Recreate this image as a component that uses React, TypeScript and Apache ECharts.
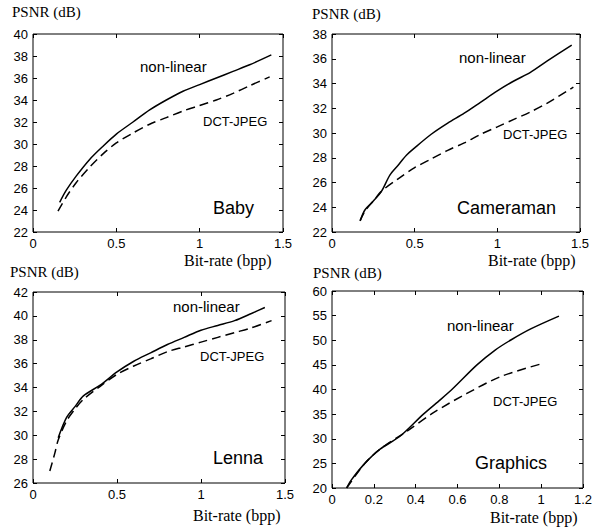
import React, { useEffect, useRef } from "react";
import * as echarts from "echarts";

// ---- Data ----
const babyNLRate = [0.16, 0.2, 0.26, 0.34, 0.42, 0.5, 0.6, 0.7, 0.8, 0.9, 1.0, 1.1, 1.2, 1.3, 1.43];
const babyNLPsnr = [24.7, 25.8, 27.1, 28.6, 29.8, 30.9, 32.0, 33.1, 34.0, 34.8, 35.4, 36.0, 36.6, 37.2, 38.1];
const babyDCTRate = [0.15, 0.2, 0.26, 0.34, 0.42, 0.5, 0.6, 0.7, 0.8, 0.9, 1.0, 1.1, 1.2, 1.3, 1.42];
const babyDCTPsnr = [23.9, 25.2, 26.5, 27.9, 29.1, 30.1, 31.0, 31.8, 32.4, 33.0, 33.5, 34.0, 34.6, 35.3, 36.1];

const camNLRate = [0.17, 0.2, 0.25, 0.3, 0.35, 0.4, 0.45, 0.5, 0.6, 0.7, 0.8, 0.9, 1.0, 1.1, 1.2, 1.3, 1.45];
const camNLPsnr = [22.9, 23.8, 24.5, 25.3, 26.6, 27.4, 28.2, 28.8, 29.9, 30.8, 31.6, 32.5, 33.4, 34.2, 34.9, 35.8, 37.1];
const camDCTRate = [0.17, 0.2, 0.25, 0.3, 0.4, 0.5, 0.6, 0.7, 0.8, 0.9, 1.0, 1.1, 1.2, 1.3, 1.46];
const camDCTPsnr = [22.9, 23.7, 24.5, 25.3, 26.3, 27.2, 27.9, 28.6, 29.2, 29.9, 30.5, 31.1, 31.7, 32.4, 33.7];

const lenNLRate = [0.15, 0.2, 0.25, 0.3, 0.4, 0.5, 0.6, 0.7, 0.8, 0.9, 1.0, 1.1, 1.2, 1.3, 1.38];
const lenNLPsnr = [29.8, 31.5, 32.4, 33.3, 34.2, 35.3, 36.2, 36.9, 37.6, 38.2, 38.8, 39.2, 39.6, 40.2, 40.7];
const lenDCTRate = [0.1, 0.13, 0.15, 0.2, 0.25, 0.3, 0.4, 0.5, 0.6, 0.7, 0.8, 0.9, 1.0, 1.1, 1.2, 1.3, 1.42];
const lenDCTPsnr = [27.0, 28.5, 29.6, 31.2, 32.2, 33.0, 34.1, 35.1, 35.8, 36.4, 37.0, 37.4, 37.8, 38.2, 38.6, 39.0, 39.6];

const graNLRate = [0.07, 0.09, 0.157, 0.23, 0.325, 0.437, 0.52, 0.578, 0.693, 0.78, 0.853, 0.95, 1.085];
const graNLPsnr = [20.0, 21.5, 25.0, 27.9, 30.5, 35.0, 38.0, 40.2, 45.0, 48.0, 50.0, 52.3, 54.9];
const graDCTRate = [0.07, 0.157, 0.23, 0.357, 0.485, 0.645, 0.805, 1.0];
const graDCTPsnr = [20.0, 25.0, 27.9, 31.5, 35.3, 39.2, 42.6, 45.2];

const panelNames = ["Baby", "Cameraman", "Lenna", "Graphics"];
const xMaxes = [1.5, 1.5, 1.5, 1.2];
const xSteps = [0.5, 0.5, 0.5, 0.2];
const yMins = [22, 22, 26, 20];
const yMaxes = [40, 38, 42, 60];
const ySteps = [2, 2, 2, 5];
const yTitle = "PSNR (dB)";
const xTitle = "Bit-rate (bpp)";
const seriesNames = ["non-linear", "DCT-JPEG"];

// ---- Layout ----
const grids = [
  { left: 33, top: 34, width: 250, height: 198 },
  { left: 332, top: 34, width: 248, height: 198 },
  { left: 33, top: 292, width: 252, height: 191 },
  { left: 332, top: 291, width: 251, height: 197 },
];

const zip = (xs: number[], ys: number[]) => xs.map((x, i) => [x, ys[i]]);

const curves = [
  [zip(babyNLRate, babyNLPsnr), zip(babyDCTRate, babyDCTPsnr)],
  [zip(camNLRate, camNLPsnr), zip(camDCTRate, camDCTPsnr)],
  [zip(lenNLRate, lenNLPsnr), zip(lenDCTRate, lenDCTPsnr)],
  [zip(graNLRate, graNLPsnr), zip(graDCTRate, graDCTPsnr)],
];

// label positions (absolute px)
const nlPos = [[140, 68], [459, 59], [173, 308], [447, 327]];
const dctPos = [[203, 123], [503, 136], [200, 358], [493, 403]];
const namePos = [[213, 210], [457, 210], [213, 460], [475, 465]];
const yTitlePos = [[12, 13], [312, 15], [10, 273], [313, 274]];
const xTitlePos = [[184, 260], [488, 260], [193, 515], [490, 517]];

const SANS = "'Liberation Sans', Arial, sans-serif";
const SERIF = "'Liberation Serif', 'Times New Roman', serif";

function buildOption() {
  const xAxis: any[] = [];
  const yAxis: any[] = [];
  const series: any[] = [];
  const graphic: any[] = [];
  grids.forEach((g, i) => {
    const common = {
      gridIndex: i,
      axisLine: { show: false, onZero: false },
      axisTick: { show: true, inside: true, length: 4, lineStyle: { color: "#000" } },
      splitLine: { show: false },
    };
    xAxis.push({
      ...common,
      type: "value",
      position: "bottom",
      min: 0,
      max: xMaxes[i],
      interval: xSteps[i],
      axisLabel: { color: "#000", fontFamily: SANS, fontSize: 13, margin: 5 },
    });
    xAxis.push({
      ...common,
      type: "value",
      position: "top",
      min: 0,
      max: xMaxes[i],
      interval: xSteps[i],
      axisLabel: { show: false },
    });
    yAxis.push({
      ...common,
      type: "value",
      position: "left",
      min: yMins[i],
      max: yMaxes[i],
      interval: ySteps[i],
      axisLabel: { color: "#000", fontFamily: SANS, fontSize: 13, margin: 5 },
    });
    yAxis.push({
      ...common,
      type: "value",
      position: "right",
      min: yMins[i],
      max: yMaxes[i],
      interval: ySteps[i],
      axisLabel: { show: false },
    });
    curves[i].forEach((data, k) => {
      series.push({
        type: "line",
        name: seriesNames[k],
        xAxisIndex: i * 2,
        yAxisIndex: i * 2,
        data,
        showSymbol: false,
        smooth: 0.3,
        lineStyle: { color: "#000", width: 1.5, type: k === 0 ? "solid" : [9, 5] },
      });
    });
    graphic.push(
      { type: "text", left: nlPos[i][0], top: nlPos[i][1] - 9, style: { text: seriesNames[0], fill: "#000", font: `15px ${SANS}` } },
      { type: "text", left: dctPos[i][0], top: dctPos[i][1] - 8, style: { text: seriesNames[1], fill: "#000", font: `13px ${SANS}` } },
      { type: "text", left: namePos[i][0], top: namePos[i][1] - 11, style: { text: panelNames[i], fill: "#000", font: `18px ${SANS}` } },
      { type: "text", left: yTitlePos[i][0], top: yTitlePos[i][1] - 9, style: { text: yTitle, fill: "#000", font: `15px ${SERIF}` } },
      { type: "text", left: xTitlePos[i][0], top: xTitlePos[i][1] - 8, style: { text: xTitle, fill: "#000", font: `16px ${SERIF}` } }
    );
  });
  return {
    animation: false,
    backgroundColor: "#fff",
    grid: grids.map((g) => ({ ...g, show: true, borderColor: "#000", borderWidth: 1, backgroundColor: "transparent" })),
    xAxis,
    yAxis,
    series,
    graphic,
  };
}

export default function App() {
  const ref = useRef<HTMLDivElement>(null);
  useEffect(() => {
    if (!ref.current) return;
    const chart = echarts.init(ref.current, undefined, { renderer: "svg" });
    chart.setOption(buildOption());
    return () => chart.dispose();
  }, []);
  return (
    <div
      ref={ref}
      style={{ position: "fixed", left: 0, top: 0, width: 604, height: 529, background: "#fff" }}
    />
  );
}
